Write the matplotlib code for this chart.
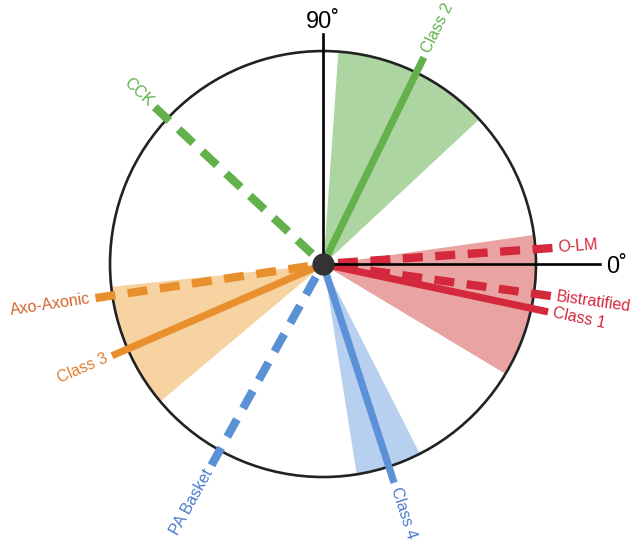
import numpy as np
import matplotlib
matplotlib.use("Agg")
import matplotlib.pyplot as plt

plt.rcParams['font.family'] = ['Liberation Sans', 'DejaVu Sans']

# preferred angles (deg) of each cell type
names = ["Class 2", "CCK", "O-LM", "Bistratified", "Class 1",
         "Axo-Axonic", "Class 3", "PA Basket", "Class 4"]
angles = [64, 137, 4, -8, -12, 188.5, 203.5, 241, 288]
dashed = [False, True, True, True, False, True, False, True, False]
line_colors = ["#62b14b", "#62b14b", "#d4283c", "#d4283c", "#d4283c",
               "#e8902e", "#e8902e", "#5b91d6", "#5b91d6"]
text_colors = ["#62b14b", "#62b14b", "#d4283c", "#d4283c", "#d4283c",
               "#d2652d", "#e07e30", "#4d7bcd", "#4d7bcd"]

# spread of the solid classes (deg)
wedge_lo = [43, -31, 186, 279]
wedge_hi = [86, 8, 220, 297]
wedge_colors = ["#add5a1", "#eaa3a3", "#f7d3a2", "#b8d0ef"]

fig = plt.figure(figsize=(6.4, 5.43), dpi=100)
ax = fig.add_axes([0.1719, 0.1215, 0.6656, 0.7845], projection='polar')
ax.set_ylim(0, 1)
ax.grid(False)
ax.set_xticks([])
ax.set_yticks([])
ax.spines['polar'].set_linewidth(1.9)
ax.spines['polar'].set_color('#222222')

for lo, hi, c in zip(wedge_lo, wedge_hi, wedge_colors):
    th = np.radians(np.linspace(lo, hi, 60))
    ax.fill_between(th, 0, 1, color=c, lw=0, zorder=1)

# axis lines
ax.plot([0, 0], [0, 1.3], color='black', lw=1.9, clip_on=False, zorder=4)
ax.plot([np.pi / 2, np.pi / 2], [0, 1.08], color='black', lw=1.9, clip_on=False, zorder=4)
ax.text(np.pi / 2, 1.135, "90˚", fontsize=17, ha='center', va='center')
ax.text(np.radians(-0.6), 1.38, "0˚", fontsize=17, ha='center', va='center')

for name, a, d, lc, tc in zip(names, angles, dashed, line_colors, text_colors):
    t = np.radians(a)
    ls = (0, (2.4, 1.5)) if d else '-'
    lw = 6.0 if d else 5.2
    # drawn from the outer end inwards so the dashes start at the tip
    ax.plot([t, t], [1.08, 0], color=lc, lw=lw, ls=ls, solid_capstyle='butt',
            dash_capstyle='butt', clip_on=False, zorder=3)
    aa = a % 360
    if 90 < aa < 270:
        rot, ha = aa - 180, 'right'
    else:
        rot, ha = (aa if aa <= 90 else aa - 360), 'left'
    ax.text(t, 1.105, name, color=tc, fontsize=11.5, rotation=rot, rotation_mode='anchor',
            ha=ha, va='center')

ax.plot([0], [0], 'o', color='#333333', ms=15, zorder=5, clip_on=False)

fig.savefig("out.png", dpi=100)
